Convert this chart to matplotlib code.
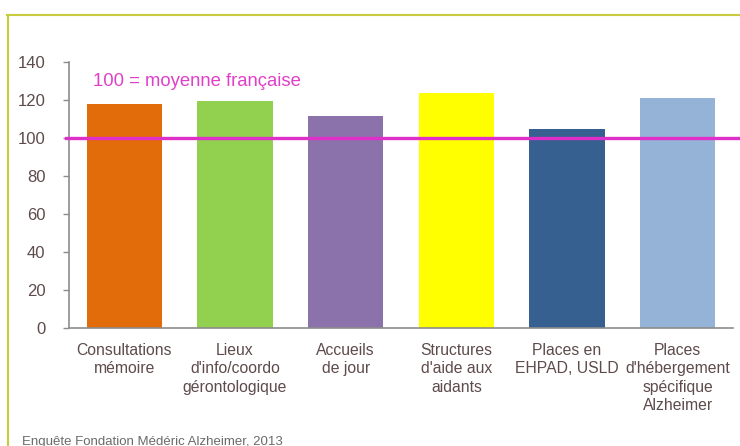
import matplotlib
matplotlib.use("Agg")
import matplotlib.pyplot as plt
from matplotlib.lines import Line2D
from matplotlib import font_manager

categories = ["Consultations\nmémoire", "Lieux\nd'info/coordo\ngérontologique",
              "Accueils\nde jour", "Structures\nd'aide aux\naidants",
              "Places en\nEHPAD, USLD", "Places\nd'hébergement\nspécifique\nAlzheimer"]
values = [117.8, 119.3, 111.5, 123.6, 104.6, 120.9]
colors = ["#e36c0a", "#92d050", "#8b72ab", "#ffff00", "#35608f", "#95b3d7"]
yticks = [0, 20, 40, 60, 80, 100, 120, 140]
reference = 100

# narrow font if there is one, otherwise Liberation Sans
names = {f.name for f in font_manager.fontManager.ttflist}
if 'Liberation Sans Narrow' in names:
    plt.rcParams['font.family'] = ['Liberation Sans Narrow', 'DejaVu Sans']
else:
    plt.rcParams['font.family'] = ['Liberation Sans', 'DejaVu Sans']
txt_col = "#5e4b4b"

fig = plt.figure(figsize=(7.4, 4.46), dpi=100)
ax = fig.add_axes([69/740, 0.2652, 664/740, 0.5956])

x = range(len(categories))
ax.bar(x, values, width=0.68, color=colors, zorder=2)
ax.set_xlim(-0.5, len(categories) - 0.5)
ax.set_ylim(0, 140)
ax.set_yticks(yticks)
ax.set_xticks(list(x))
ax.set_xticklabels(categories, fontsize=11.3, color=txt_col, linespacing=1.28)
ax.tick_params(axis='x', length=0, pad=11)
ax.tick_params(axis='y', length=4, width=1, color="#8c8c8c", labelsize=12,
               labelcolor=txt_col, pad=13)
for s in ['top', 'right']:
    ax.spines[s].set_visible(False)
for s in ['left', 'bottom']:
    ax.spines[s].set_color("#8c8c8c")
    ax.spines[s].set_linewidth(1.2)

ax.axhline(reference, xmin=-0.005, xmax=1.02, color="#e02ec8", lw=2.4,
           clip_on=False, zorder=3)
ax.text(0.036, 0.910, "100 = moyenne française", transform=ax.transAxes,
        fontsize=13.3, color="#e040c8", va='baseline')

# slide frame
frame = "#c8cc3c"
fig.add_artist(Line2D([8/740, 8/740], [0, 1 - 15/446], color=frame, lw=1.5))
fig.add_artist(Line2D([7/740, 1], [1 - 15/446, 1 - 15/446], color=frame, lw=1.5))

fig.text(22/740, 1 - 442/446, "Enquête Fondation Médéric Alzheimer, 2013",
         fontsize=9.5, color="#6a6a6a", va='center')

fig.savefig("out.png", dpi=100)
